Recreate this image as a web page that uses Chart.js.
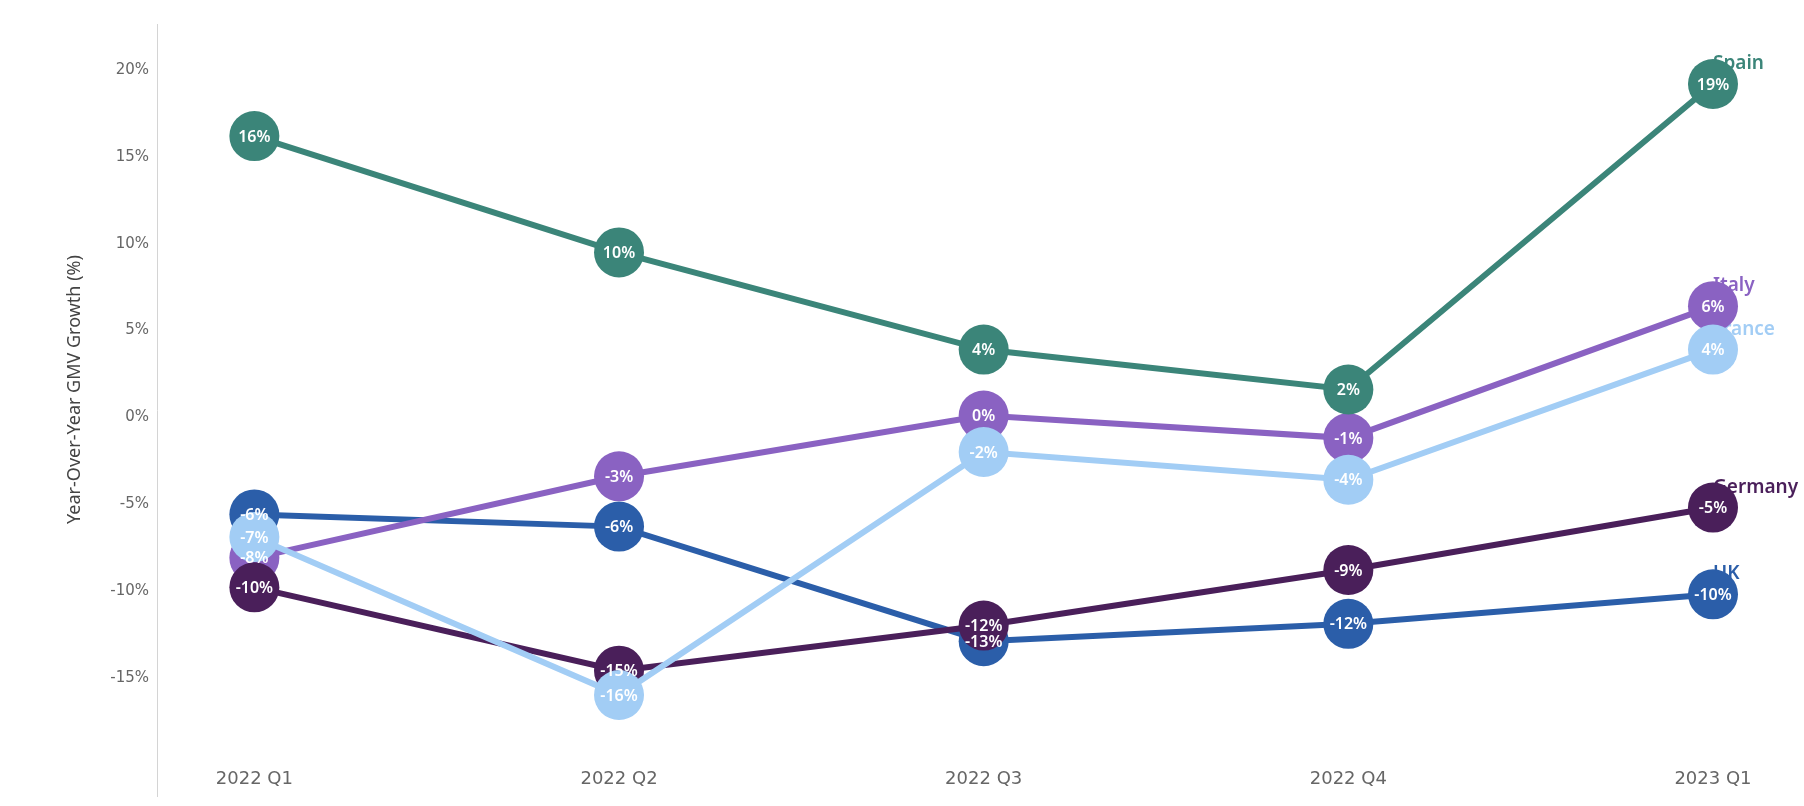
<!DOCTYPE html>
<html>
<head>
<meta charset="utf-8">
<script src="https://cdn.jsdelivr.net/npm/chart.js@4"></script>
<style>
  html,body{margin:0;padding:0;background:#fff;}
  #wrap{width:1804px;height:806px;position:relative;}
</style>
</head>
<body>
<div id="wrap"><canvas id="myChart"></canvas></div>
<script>
'use strict';
// quarters along the x axis
const quarters=['2022 Q1','2022 Q2','2022 Q3','2022 Q4','2023 Q1'];
// year-over-year GMV growth (%)
const spain=[16.2,9.5,3.9,1.6,19.2];
const italy=[-8.1,-3.4,0.1,-1.2,6.4];
const france=[-6.9,-16.0,-2.0,-3.6,3.9];
const germany=[-9.8,-14.6,-12.0,-8.8,-5.2];
const uk=[-5.6,-6.3,-12.9,-11.9,-10.2];
const yTicks=[-15,-10,-5,0,5,10,15,20];

const countries=['Spain','Italy','France','Germany','UK'];
const seriesValues=[spain,italy,france,germany,uk];
const colors=['#3b8579','#8a62c2','#a2cdf5','#4a1f5a','#2b5ea9'];
// lower order is painted on top
const drawOrder=[2,4,1,3,5];

function toPoints(values){
  return values.map((v,i)=>({x:i,y:v}));
}

let datasets=[];
for (let i = 0; i < countries.length; i++) {
  datasets.push({
    label:countries[i],
    data:toPoints(seriesValues[i]),
    borderColor:colors[i],
    backgroundColor:colors[i],
    borderWidth:6,
    pointRadius:25,
    pointHoverRadius:25,
    pointBorderWidth:0,
    pointBackgroundColor:colors[i],
    order:drawOrder[i],
    clip:false
  });
}

// country names at the end of each line, tucked behind the last circle
const endNames={
  id:'endNames',
  beforeDatasetsDraw(chart){
    let ctx=chart.ctx;
    ctx.save();
    ctx.font='600 19px "Noto Sans"';
    ctx.textAlign='left';
    ctx.textBaseline='alphabetic';
    chart.data.datasets.forEach((ds,i)=>{
      let meta=chart.getDatasetMeta(i);
      let last=meta.data[meta.data.length-1];
      ctx.fillStyle=colors[i];
      ctx.fillText(ds.label,last.x,last.y-15);
    });
    ctx.restore();
  }
};

// value labels inside the circles
const circleLabels={
  id:'circleLabels',
  afterDatasetsDraw(chart){
    let ctx=chart.ctx;
    ctx.save();
    ctx.font='600 16px "Noto Sans"';
    ctx.textAlign='center';
    ctx.textBaseline='middle';
    ctx.fillStyle='#ffffff';
    let metas=chart.getSortedVisibleDatasetMetas().slice().reverse();
    metas.forEach(meta=>{
      let values=seriesValues[meta.index];
      meta.data.forEach((pt,j)=>{
        ctx.fillText(Math.round(values[j])+'%',pt.x,pt.y+1);
      });
    });
    ctx.restore();
  }
};

// the y axis rule runs on below the plot, past the quarter labels
const axisRule={
  id:'axisRule',
  afterDraw(chart){
    let ctx=chart.ctx;
    let a=chart.chartArea;
    ctx.save();
    ctx.strokeStyle='#d4d4d4';
    ctx.lineWidth=1;
    ctx.beginPath();
    ctx.moveTo(a.left+0.5,a.top-1);
    ctx.lineTo(a.left+0.5,chart.height-9);
    ctx.stroke();
    ctx.restore();
  }
};

let ctx=document.getElementById('myChart').getContext('2d');
let chart=new Chart(ctx,{
  type:'line',
  data:{datasets:datasets},
  options:{
    responsive:true,
    maintainAspectRatio:false,
    animation:false,
    events:[],
    layout:{padding:{top:24,left:0,right:0,bottom:0}},
    plugins:{legend:{display:false},tooltip:{enabled:false}},
    scales:{
      x:{
        type:'linear',
        min:-0.267,
        max:4.181,
        grid:{display:false},
        border:{display:false},
        afterBuildTicks:axis=>{axis.ticks=quarters.map((q,i)=>({value:i}));},
        afterFit:axis=>{axis.height=52;axis.paddingLeft=0;axis.paddingRight=0;},
        ticks:{
          padding:7,
          color:'#666',
          font:{family:'"DejaVu Sans"',size:18},
          callback:v=>quarters[v]
        }
      },
      y:{
        min:-19.4,
        max:22.6,
        grid:{display:false},
        border:{display:false},
        afterBuildTicks:axis=>{axis.ticks=yTicks.map(v=>({value:v}));},
        afterFit:axis=>{axis.width=157;axis.paddingTop=0;axis.paddingBottom=0;},
        ticks:{
          padding:0,
          color:'#666',
          font:{family:'"DejaVu Sans"',size:15},
          callback:v=>v+'%'
        },
        title:{
          display:true,
          text:'Year-Over-Year GMV Growth (%)',
          color:'#444',
          font:{family:'"Noto Sans"',size:18},
          padding:{top:64,bottom:0}
        }
      }
    }
  },
  plugins:[endNames,circleLabels,axisRule]
});
</script>
</body>
</html>
